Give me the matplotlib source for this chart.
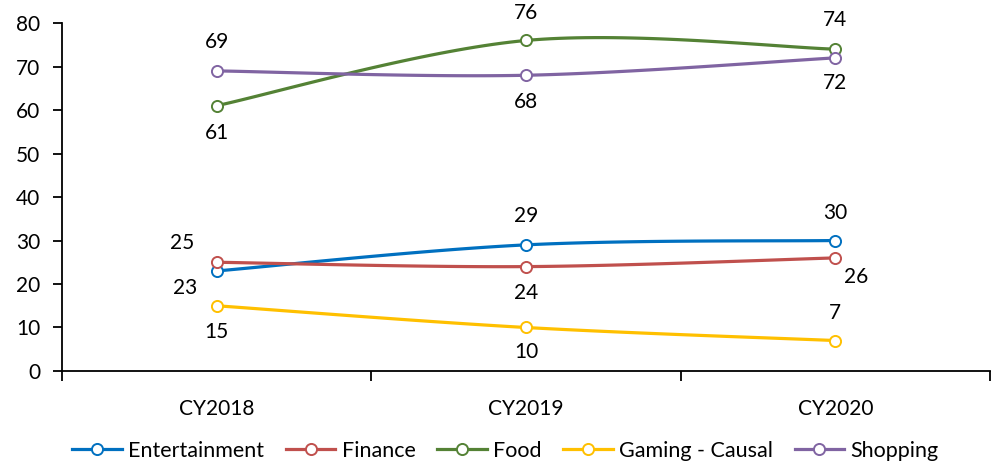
import matplotlib.pyplot as plt
import numpy as np

years = ['CY2018', 'CY2019', 'CY2020']
entertainment = [23, 29, 30]
finance = [25, 24, 26]
food = [61, 76, 74]
gaming = [15, 10, 7]
shopping = [69, 68, 72]

# (name, values, colour, label offsets in points)
series = [
    ('Entertainment', entertainment, '#0070C0', [(-23, -12), (0, 21), (0, 20)]),
    ('Finance', finance, '#C0504D', [(-25, 14), (0, -19), (15, -14)]),
    ('Food', food, '#548235', [(0, -19.5), (0, 20), (0, 21)]),
    ('Gaming - Causal', gaming, '#FFC000', [(0, -19), (0, -18), (0, 20)]),
    ('Shopping', shopping, '#8064A2', [(0, 21), (0, -19.5), (0, -18)]),
]


def smooth(x, y, n=40):
    # Excel-like smoothed line: cubic Bezier with Catmull-Rom control points
    x = np.asarray(x, float)
    y = np.asarray(y, float)
    px = np.concatenate([[x[0]], x, [x[-1]]])
    py = np.concatenate([[y[0]], y, [y[-1]]])
    xs, ys = [], []
    t = np.linspace(0, 1, n)
    for i in range(len(x) - 1):
        p0 = np.array([px[i + 1], py[i + 1]])
        p3 = np.array([px[i + 2], py[i + 2]])
        c1 = p0 + (np.array([px[i + 2], py[i + 2]]) - np.array([px[i], py[i]])) / 6
        c2 = p3 - (np.array([px[i + 3], py[i + 3]]) - np.array([px[i + 1], py[i + 1]])) / 6
        b = ((1 - t) ** 3)[:, None] * p0 + (3 * (1 - t) ** 2 * t)[:, None] * c1 \
            + (3 * (1 - t) * t ** 2)[:, None] * c2 + (t ** 3)[:, None] * p3
        xs.extend(b[:, 0])
        ys.extend(b[:, 1])
    return np.array(xs), np.array(ys)


plt.rcParams['font.family'] = ['Lato', 'DejaVu Sans']

fig = plt.figure(figsize=(9.99, 4.67), dpi=100)
ax = fig.add_axes([0.062, 0.2056, 0.929, 0.745])

xpos = np.arange(len(years))
for name, vals, color, offs in series:
    sx, sy = smooth(xpos, vals)
    ax.plot(sx, sy, color=color, lw=2.3, solid_capstyle='round')
    ax.plot(xpos, vals, ls='none', marker='o', ms=8, mfc='white',
            mec=color, mew=1.4)
    ax.plot([], [], color=color, lw=2.3, marker='o', ms=8, mfc='white',
            mec=color, mew=1.4, label=name)
    for xi, v, off in zip(xpos, vals, offs):
        ax.annotate(str(v), (xi, v), xytext=off, textcoords='offset points',
                    ha='center', va='center', fontsize=15, color='black')

ax.set_xlim(-0.5, 2.5)
ax.set_ylim(0, 80)
ax.set_yticks(range(0, 81, 10))
ax.set_xticks(xpos)
ax.set_xticklabels(years)
ax.set_xticks([-0.5, 0.5, 1.5, 2.5], minor=True)
ax.tick_params(axis='x', which='major', length=0, pad=20, labelsize=15)
ax.tick_params(axis='x', which='minor', length=7, width=1.3, direction='out')
ax.tick_params(axis='y', length=6.5, width=1.3, direction='out', labelsize=15, pad=9)
for s in ['top', 'right']:
    ax.spines[s].set_visible(False)
for s in ['left', 'bottom']:
    ax.spines[s].set_linewidth(1.3)

fig.legend(loc='center', bbox_to_anchor=(0.506, 0.035), ncol=5, frameon=False,
           fontsize=15.5, handlelength=2.3, handletextpad=0.3, columnspacing=1.0)

fig.savefig('out.png', dpi=100)
